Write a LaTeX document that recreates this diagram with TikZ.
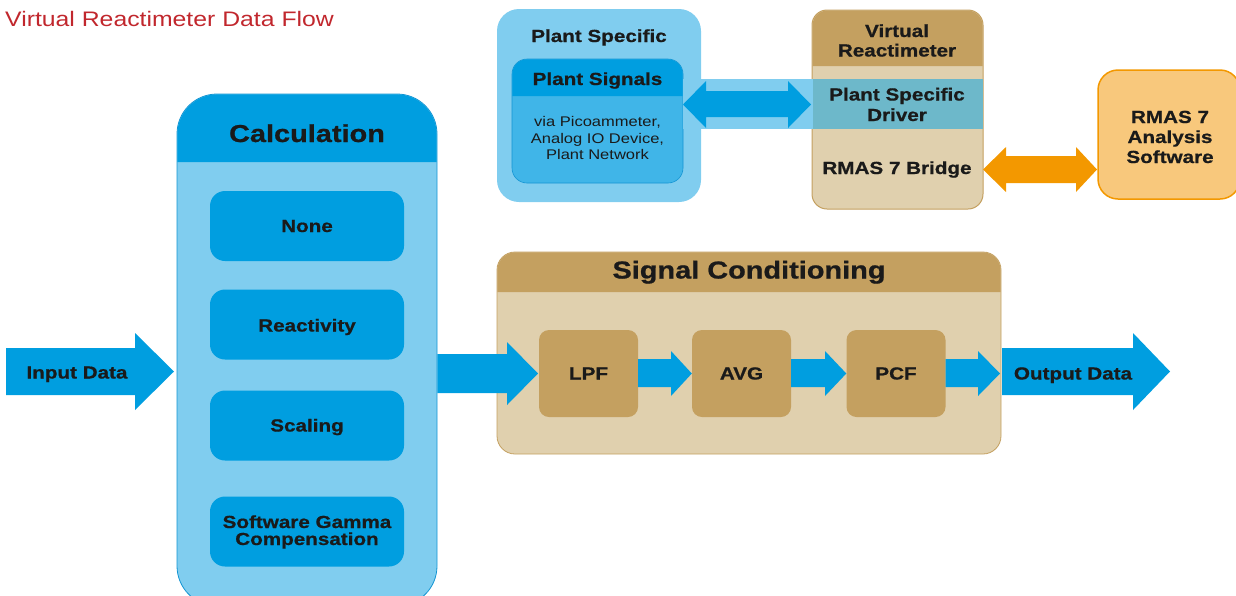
\documentclass[tikz,border=0pt]{standalone}
\usepackage{fontspec}
\setmainfont{Liberation Sans}[FakeStretch=1.18,BoldFeatures={FakeBold=0.8}]
\definecolor{blueH}{HTML}{009EE0}
\definecolor{blueL}{HTML}{80CDEF}
\definecolor{blueM}{HTML}{40B5E8}
\definecolor{blueB}{HTML}{1495D3}
\definecolor{tanH}{HTML}{C4A060}
\definecolor{tanL}{HTML}{E0D0AE}
\definecolor{teal}{HTML}{6DB8CA}
\definecolor{orng}{HTML}{F39800}
\definecolor{orngL}{HTML}{F8C87C}
\definecolor{titlered}{HTML}{C1272D}
\definecolor{ink}{HTML}{1A1A1A}
\newcommand\labf{\fontsize{17.5}{20}\selectfont\bfseries}
\newcommand\headf{\fontsize{24.5}{28}\selectfont\bfseries}
\newcommand\smallf{\fontsize{14}{16.5}\selectfont}
\begin{document}
\begin{tikzpicture}[x=1pt,y=-1pt,
  lab/.style={text=ink,font=\labf,align=center,inner sep=0pt},
  blab/.style={text=ink,font=\labf,inner sep=0pt,anchor=base},
  head/.style={text=ink,font=\headf,inner sep=0pt,anchor=base},
  calcitem/.style={fill=blueH,rounded corners=15,minimum width=194,minimum height=70,inner sep=0pt},
  scitem/.style={fill=tanH,rounded corners=10,minimum width=99,minimum height=87,inner sep=0pt},
  fatblue/.style={fill=blueH},
]
\useasboundingbox (0,0) rectangle (1236,595);
\clip (0,0) rectangle (1236,595);

% title
\node[anchor=base west,inner sep=0pt,text=titlered,font=\fontsize{21}{24}\selectfont] (title) at (5,26) {Virtual Reactimeter Data Flow};

% ---------- Calculation ----------
\node[fill=blueL,draw=blueB,line width=0.8,rounded corners=40,minimum width=260,minimum height=512,inner sep=0pt] (calc) at (307,350) {};
\fill[blueH] (177.4,162) [rounded corners=40] -- (177.4,94.4) -- (436.6,94.4) [sharp corners] -- (436.6,162) -- cycle;
\node[head] (calct) at (307,142) {Calculation};
\node[calcitem] (none) at (307,226) {};
\node[calcitem] (react) at (307,324.5) {};
\node[calcitem] (scal) at (307,425.5) {};
\node[calcitem] (sgc) at (307,531.5) {};
\node[blab] (nonet) at (307,232) {None};
\node[blab] (reactt) at (307,331.5) {Reactivity};
\node[blab] (scalt) at (307,431.5) {Scaling};
\node[blab] (sgct1) at (307,528) {Software Gamma};
\node[blab] (sgct2) at (307,545) {Compensation};

% ---------- Signal Conditioning ----------
\node[fill=tanL,draw=tanH,line width=0.8,rounded corners=18,minimum width=504,minimum height=202,inner sep=0pt] (sc) at (749,353) {};
\fill[tanH] (497.4,292) [rounded corners=18] -- (497.4,252.4) -- (1000.6,252.4) [sharp corners] -- (1000.6,292) -- cycle;
\node[head] (sct) at (749,278.5) {Signal Conditioning};
\node[scitem] (lpf) at (588.5,373.5) {};
\node[scitem] (avg) at (741.5,373.5) {};
\node[scitem] (pcf) at (896,373.5) {};
\node[blab] (lpft) at (588.5,379.5) {LPF};
\node[blab] (avgt) at (741.5,379.5) {AVG};
\node[blab] (pcft) at (896,379.5) {PCF};

% ---------- Plant Specific ----------
\node[fill=blueL,rounded corners=22,minimum width=204,minimum height=193,inner sep=0pt] (ps) at (599,105.5) {};
\node[blab] (pst) at (599,42) {Plant Specific};
\node[fill=blueM,draw=blueB,line width=0.6,rounded corners=15,minimum width=171,minimum height=124,inner sep=0pt] (sig) at (597.5,121) {};
\fill[blueH] (512.3,96) [rounded corners=15] -- (512.3,59.3) -- (682.7,59.3) [sharp corners] -- (682.7,96) -- cycle;
\node[blab] (sigt) at (597.5,85) {Plant Signals};
\node[text=ink,font=\smallf,align=center,inner sep=0pt] (sigtxt) at (597.5,138) {via Picoammeter,\\Analog IO Device,\\Plant Network};

% ---------- Virtual Reactimeter ----------
\node[fill=tanL,draw=tanH,line width=1,rounded corners=15,minimum width=171,minimum height=199,inner sep=0pt] (vr) at (897.5,109.5) {};
\fill[tanH] (812.5,66) [rounded corners=15] -- (812.5,10.5) -- (982.5,10.5) [sharp corners] -- (982.5,66) -- cycle;
\node[blab] (vrt1) at (897,37) {Virtual};
\node[blab] (vrt2) at (897,56.5) {Reactimeter};
% band linking plant signals and driver
\fill[blueL] (683,79) rectangle (812.5,129);
\fill[teal] (812.5,79) rectangle (982.5,129);
\node[blab] (drv1) at (897,100.5) {Plant Specific};
\node[blab] (drv2) at (897,121) {Driver};
\node[blab] (bridge) at (897,174) {RMAS 7 Bridge};

% ---------- RMAS 7 Analysis ----------
\node[fill=orngL,draw=orng,line width=1.5,rounded corners=20,minimum width=142,minimum height=129,inner sep=0pt] (rmas) at (1169,134.5) {};
\node[blab] (rm1) at (1170,123) {RMAS 7};
\node[blab] (rm2) at (1170,143) {Analysis};
\node[blab] (rm3) at (1170,163) {Software};

% ---------- arrows ----------
% Input Data
\fill[fatblue] (6,348) -- (135,348) -- (135,333) -- (174,371.5) -- (135,410) -- (135,395) -- (6,395) -- cycle;
\node[blab] (inp) at (77,378.5) {Input Data};
% Calculation -> Signal Conditioning
\fill[fatblue] (calc.east |- 0,354) -- (507,354) -- (507,342) -- (538,373.5) -- (507,405) -- (507,393) -- (calc.east |- 0,393) -- cycle;
% LPF -> AVG
\fill[fatblue] (lpf.east |- 0,359) -- (671,359) -- (671,351) -- (avg.west) -- (671,396) -- (671,387) -- (lpf.east |- 0,387) -- cycle;
% AVG -> PCF
\fill[fatblue] (avg.east |- 0,359) -- (825,359) -- (825,351) -- (pcf.west) -- (825,396) -- (825,387) -- (avg.east |- 0,387) -- cycle;
% PCF -> Output
\fill[fatblue] (pcf.east |- 0,359) -- (978,359) -- (978,351) -- (1000,373.5) -- (978,396) -- (978,387) -- (pcf.east |- 0,387) -- cycle;
% Output Data
\fill[fatblue] (1002,348) -- (1133,348) -- (1133,333) -- (1170,371.5) -- (1133,410) -- (1133,395) -- (1002,395) -- cycle;
\node[blab] (outp) at (1073,379.5) {Output Data};
% Plant Signals <-> Driver
\fill[fatblue] (683,104.5) -- (706,81) -- (706,91) -- (788,91) -- (788,81) -- (811,104.5) -- (788,128) -- (788,117) -- (706,117) -- (706,128) -- cycle;
% Bridge <-> RMAS
\fill[orng] (983,169.5) -- (1006,147) -- (1006,156) -- (1076,156) -- (1076,147) -- (1097,169.5) -- (1076,192) -- (1076,183) -- (1006,183) -- (1006,192) -- cycle;
\end{tikzpicture}
\end{document}
